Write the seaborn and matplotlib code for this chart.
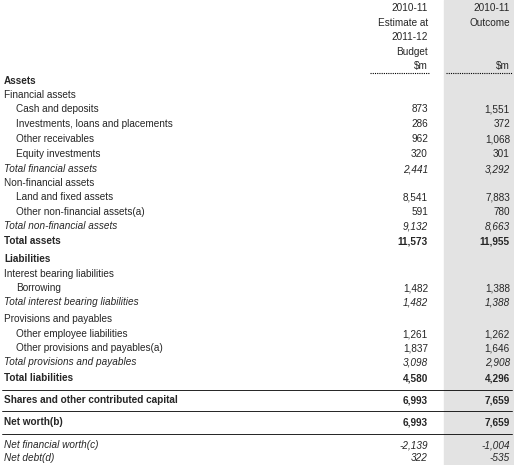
import matplotlib
matplotlib.use("Agg")
import matplotlib.pyplot as plt
import seaborn as sns

sns.set_style("white")
plt.rcParams['font.family'] = ['Liberation Sans', 'DejaVu Sans']

labels = ["Assets", "Financial assets", "Cash and deposits", "Investments, loans and placements",
          "Other receivables", "Equity investments", "Total financial assets", "Non-financial assets",
          "Land and fixed assets", "Other non-financial assets(a)", "Total non-financial assets",
          "Total assets", "Liabilities", "Interest bearing liabilities", "Borrowing",
          "Total interest bearing liabilities", "Provisions and payables", "Other employee liabilities",
          "Other provisions and payables(a)", "Total provisions and payables", "Total liabilities",
          "Shares and other contributed capital", "Net worth(b)", "Net financial worth(c)", "Net debt(d)"]
estimate = ["", "", "873", "286", "962", "320", "2,441", "", "8,541", "591", "9,132", "11,573", "", "",
            "1,482", "1,482", "", "1,261", "1,837", "3,098", "4,580", "6,993", "6,993", "-2,139", "322"]
outcome = ["", "", "1,551", "372", "1,068", "301", "3,292", "", "7,883", "780", "8,663", "11,955", "", "",
           "1,388", "1,388", "", "1,262", "1,646", "2,908", "4,296", "7,659", "7,659", "-1,004", "-535"]
styles = ["b", "n", "i1", "i1", "i1", "i1", "it", "n", "i1", "i1", "it", "b", "b", "n", "i1", "it", "n",
          "i1", "i1", "it", "b", "b", "b", "it", "it"]
row_y = [81, 95, 109, 124, 139, 154, 169, 183, 197, 212, 226, 241, 259, 274, 288, 302, 319, 334, 348,
         362, 378, 400, 422, 445, 458]

fig = plt.figure(figsize=(5.14, 4.65), dpi=100)
ax = fig.add_axes([0, 0, 1, 1])
ax.set_xlim(0, 514)
ax.set_ylim(465, 0)
ax.axis("off")
ax.axvspan(444, 514, color="#e3e3e3", zorder=0)

fs = 7.2
hdr1 = [("2010-11", 8), ("Estimate at", 23), ("2011-12", 37), ("Budget", 52), ("$m", 66)]
for t, y in hdr1:
    ax.text(428, y, t, ha="right", va="center", fontsize=fs)
ax.text(510, 8, "2010-11", ha="right", va="center", fontsize=fs)
ax.text(510, 23, "Outcome", ha="right", va="center", fontsize=fs)
ax.text(510, 66, "$m", ha="right", va="center", fontsize=fs)
ax.plot([370, 430], [73, 73], color="black", lw=0.8, ls=(0, (1, 1)))
ax.plot([446, 512], [73, 73], color="black", lw=0.8, ls=(0, (1, 1)))

for lab, e, o, s, y in zip(labels, estimate, outcome, styles, row_y):
    weight = "bold" if s == "b" else "normal"
    style = "italic" if s == "it" else "normal"
    x = 16 if s == "i1" else 4
    ax.text(x, y, lab, ha="left", va="center", fontsize=fs, fontweight=weight, fontstyle=style)
    ax.text(428, y, e, ha="right", va="center", fontsize=fs, fontweight=weight, fontstyle=style)
    ax.text(510, y, o, ha="right", va="center", fontsize=fs, fontweight=weight, fontstyle=style)

for yl in [390, 411, 434]:
    ax.plot([2, 512], [yl, yl], color="black", lw=0.6)

fig.savefig("out.png", dpi=100)
